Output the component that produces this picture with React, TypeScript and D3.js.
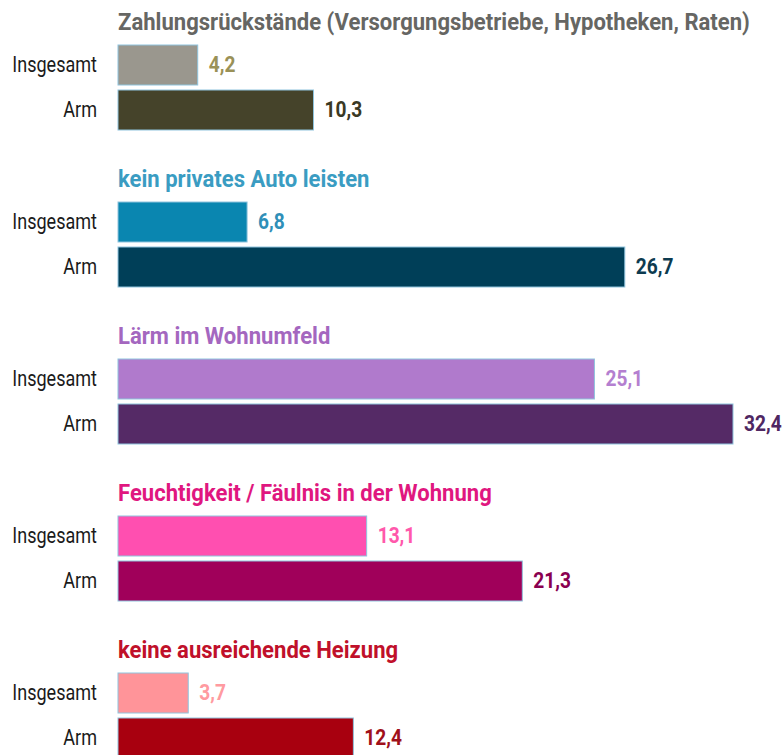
import React, { useRef, useEffect } from "react";
import * as d3 from "d3";

const titles = [
  "Zahlungsrückstände (Versorgungsbetriebe, Hypotheken, Raten)",
  "kein privates Auto leisten",
  "Lärm im Wohnumfeld",
  "Feuchtigkeit / Fäulnis in der Wohnung",
  "keine ausreichende Heizung",
];
const rowLabels = ["Insgesamt", "Arm"];
const insgesamt = [4.2, 6.8, 25.1, 13.1, 3.7];
const arm = [10.3, 26.7, 32.4, 21.3, 12.4];

const titleColors = ["#666663", "#3a9cc2", "#a467bf", "#e0177f", "#c0102a"];
const insgesamtColors = ["#9a978e", "#0a86b0", "#b07acc", "#ff4fb0", "#ff9499"];
const insgesamtText = ["#9a9157", "#2f8fb8", "#b47fd0", "#ff58ab", "#ff9aa0"];
const armColors = ["#45432a", "#003f58", "#552a66", "#a0005a", "#a8000f"];
const armText = ["#3a3924", "#0d3b50", "#4f2762", "#8a0050", "#a0101a"];

const FONT = "Roboto, 'Noto Sans', sans-serif";

const App = () => {
  const svgRef = useRef<SVGSVGElement>(null);
  const width = 784;
  const height = 755;

  useEffect(() => {
    const svg = d3.select(svgRef.current);
    svg.selectAll("*").remove();

    const x = d3.scaleLinear().domain([0, 32.4]).range([118, 733]);
    const y = d3
      .scaleLinear()
      .domain([0, 1])
      .range([45, 45 + 157]);
    const barH = 40;
    const gap = 5;

    const data = titles.map((t, i) => ({
      title: t,
      i,
      rows: [
        { label: rowLabels[0], v: insgesamt[i], fill: insgesamtColors[i], txt: insgesamtText[i] },
        { label: rowLabels[1], v: arm[i], fill: armColors[i], txt: armText[i] },
      ],
    }));

    const groups = svg
      .selectAll(".grp")
      .data(data)
      .join("g")
      .attr("class", "grp")
      .attr("transform", (d) => `translate(0,${y(d.i)})`);

    // group titles (squeezed horizontally for the condensed look)
    groups
      .append("text")
      .attr("transform", `translate(${x(0)},-15) scale(0.92,1)`)
      .attr("fill", (d) => titleColors[d.i])
      .style("font-family", FONT)
      .style("font-weight", "bold")
      .style("font-size", "24px")
      .text((d) => d.title);

    const rows = groups
      .selectAll(".row")
      .data((d) => d.rows)
      .join("g")
      .attr("class", "row")
      .attr("transform", (d, j) => `translate(0,${j * (barH + gap)})`);

    rows
      .append("rect")
      .attr("x", x(0))
      .attr("y", 0)
      .attr("width", (d) => x(d.v) - x(0))
      .attr("height", barH)
      .attr("fill", (d) => d.fill)
      .attr("stroke", "#8fc4dd")
      .attr("stroke-width", 1);

    rows
      .append("text")
      .attr("transform", `translate(97,26.5) scale(0.82,1)`)
      .attr("text-anchor", "end")
      .attr("fill", "#1a1a1a")
      .style("font-family", FONT)
      .style("font-size", "22px")
      .text((d) => d.label);

    rows
      .append("text")
      .attr("transform", (d) => `translate(${x(d.v) + 11},27) scale(0.87,1)`)
      .attr("fill", (d) => d.txt)
      .style("font-family", FONT)
      .style("font-weight", "bold")
      .style("font-size", "22px")
      .text((d) => d3.format(".1f")(d.v).replace(".", ","));
  }, []);

  return (
    <>
      <style>{"body{margin:0;background:#fff}"}</style>
      <svg ref={svgRef} width={width} height={height} style={{ display: "block" }}></svg>
    </>
  );
};

export default App;
